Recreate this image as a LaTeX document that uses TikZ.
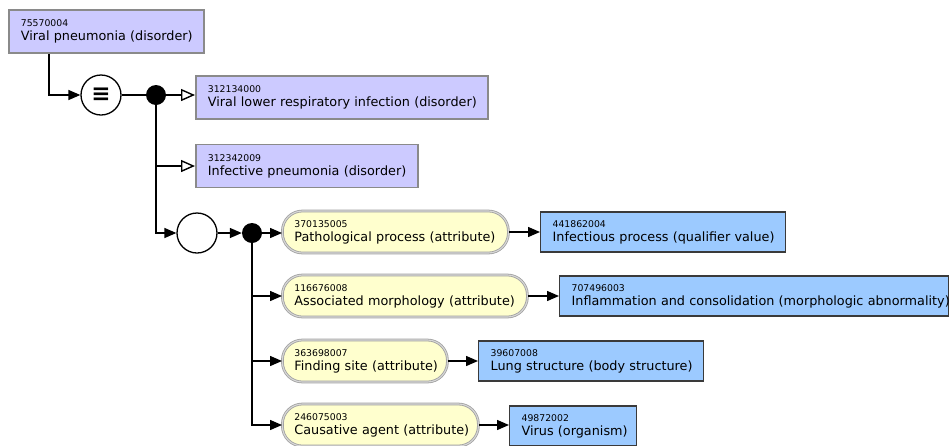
\documentclass[tikz,border=0pt]{standalone}
\usepackage{fontspec}
\setmainfont{DejaVu Sans}
\usetikzlibrary{arrows.meta, calc, positioning}

\definecolor{p1}{RGB}{204, 202, 255}
\definecolor{b1}{RGB}{156, 202, 255}
\definecolor{y1}{RGB}{255, 255, 206}
\definecolor{g}{HTML}{8a8a8a}
\definecolor{d}{HTML}{3a3a3a}

\newcommand{\cpt}[2]{{\fontsize{9.3}{14}\selectfont #1}\\\mbox{#2}}

\begin{document}
\begin{tikzpicture}[x=1pt, y=-1pt,
		box/.style={anchor=west, inner xsep=12pt, inner ysep=0pt, align=left, font=\fontsize{12.8}{14}\selectfont},
		disorder/.style={box, draw=g, line width=1.8pt, fill=p1, minimum height=43pt},
		attr/.style={box, draw=g!80, double=g!35, double distance=1.1pt, line width=0.8pt, fill=y1, rounded corners=20pt, minimum height=42pt},
		value/.style={box, draw=d, line width=1.3pt, fill=b1, minimum height=40pt},
		ring/.style={circle, draw, line width=1.3pt, fill=white, minimum size=40pt, inner sep=0pt},
		dot/.style={circle, fill=black, minimum size=20pt, inner sep=0pt},
		link/.style={line width=1.4pt},
		isa/.style={link, -{Triangle[open, length=14pt, width=12pt, fill=white]}},
		has/.style={link, -{Triangle[length=12pt, width=10pt]}}]
			\useasboundingbox (0, 0) rectangle (950, 445);
			
			\node[disorder, text width=171pt] (vp) at (8, 31.5) {\cpt{75570004}{Viral pneumonia (disorder)}};
			\node[disorder, text width=268pt] (vlri) at (195, 97.5) {\cpt{312134000}{Viral lower respiratory infection (disorder)}};
			\node[disorder, text width=198pt] (ip) at (195, 166) {\cpt{312342009}{Infective pneumonia (disorder)}};
			
			\node[ring, font=\fontsize{23}{23}\selectfont\bfseries] (eq) at (101, 95) {≡};
			\node[dot] (d1) at (156, 95) {};
			\node[ring] (grp) at (197, 233) {};
			\node[dot] (d2) at (252, 233) {};
			
			\node[attr, text width=202pt] (pp) at (282, 232) {\cpt{370135005}{Pathological process (attribute)}};
			\node[attr, text width=221pt] (am) at (282, 296) {\cpt{116676008}{Associated morphology (attribute)}};
			\node[attr, text width=141pt] (fs) at (282, 361) {\cpt{363698007}{Finding site (attribute)}};
			\node[attr, text width=172pt] (ca) at (282, 425) {\cpt{246075003}{Causative agent (attribute)}};
			
			\node[value, text width=221pt] (inf) at (540, 232) {\cpt{441862004}{Infectious process (qualifier value)}};
			\node[value, text width=365pt] (infl) at (559, 296) {\cpt{707496003}{Inflammation and consolidation (morphologic abnormality)}};
			\node[value, text width=201pt] (lung) at (478, 361) {\cpt{39607008}{Lung structure (body structure)}};
			\node[value, text width=103pt] (vir) at (509, 426) {\cpt{49872002}{Virus (organism)}};
			
			\coordinate (vps) at ($(vp.south west) + (41, 0)$);
			
			\draw[has] (vps) |- (eq);
			\draw[link] (eq) -- (d1);
			\draw[isa] (d1) -- (d1 -| vlri.west);
			\draw[isa] (d1) |- (ip.west);
			\draw[has] (d1) |- (grp);
			\draw[has] (grp) -- (d2);
			
			\draw[has] (d2) -- (d2 -| pp.west);
			\draw[has] (d2) |- (am.west);
			\draw[has] (d2) |- (fs.west);
			\draw[has] (d2) |- (ca.west);
			
			\draw[has] (pp) -- (pp.east -| inf.west);
			\draw[has] (am) -- (am.east -| infl.west);
			\draw[has] (fs) -- (fs.east -| lung.west);
			\draw[has] (ca) -- (ca.east -| vir.west);
		\end{tikzpicture}
\end{document}
